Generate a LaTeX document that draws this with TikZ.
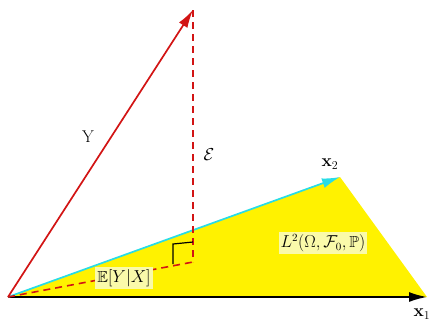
\documentclass[tikz,border=0pt]{standalone}
\usepackage{amssymb}
\usetikzlibrary{arrows.meta}
\definecolor{myred}{RGB}{210,20,20}
\definecolor{mycyan}{RGB}{40,220,230}
\definecolor{lbl}{RGB}{250,250,170}
\begin{document}
\begin{tikzpicture}[x=1pt,y=-1pt,
  vec/.style={line width=1.8pt,-{Latex[length=18pt,width=10pt]}},
  reddash/.style={myred,line width=1.6pt,dash pattern=on 7pt off 5pt},
  lab/.style={inner sep=1.5pt,font=\fontsize{17}{19}\selectfont},
  hl/.style={fill=lbl,inner sep=2pt,font=\fontsize{16}{18}\selectfont}]
\useasboundingbox (0,0) rectangle (433,322);
\coordinate (O) at (8,297);
\coordinate (Y) at (193,10);
\coordinate (X2) at (340,177);
\coordinate (X1) at (427,297);
\coordinate (P) at (193,262);
\fill[yellow] (O) -- (X2) -- (X1) -- cycle;
\draw[vec,black] (O) -- (X1);
\draw[vec,mycyan,line width=1.7pt] (O) -- (X2);
\draw[vec,myred,line width=1.7pt] (O) -- (Y);
\draw[reddash] (O) -- (P);
\draw[reddash] (Y) -- (P);
\draw[black,line width=1.2pt] (173,264) -- (173,244) -- (193,242);
\node[lab] (ly) at (88,137) {Y};
\node[lab] (le) at (209,155) {$\mathcal{E}$};
\node[lab] (lx2) at (330,164) {$\mathbf{x}_2$};
\node[lab] (lx1) at (422,314) {$\mathbf{x}_1$};
\node[hl] (lL) at (323,243) {$L^2(\Omega,\mathcal{F}_0,\mathbb{P})$};
\node[hl] (lE) at (124,278) {$\mathbb{E}[Y|X]$};
\end{tikzpicture}
\end{document}
